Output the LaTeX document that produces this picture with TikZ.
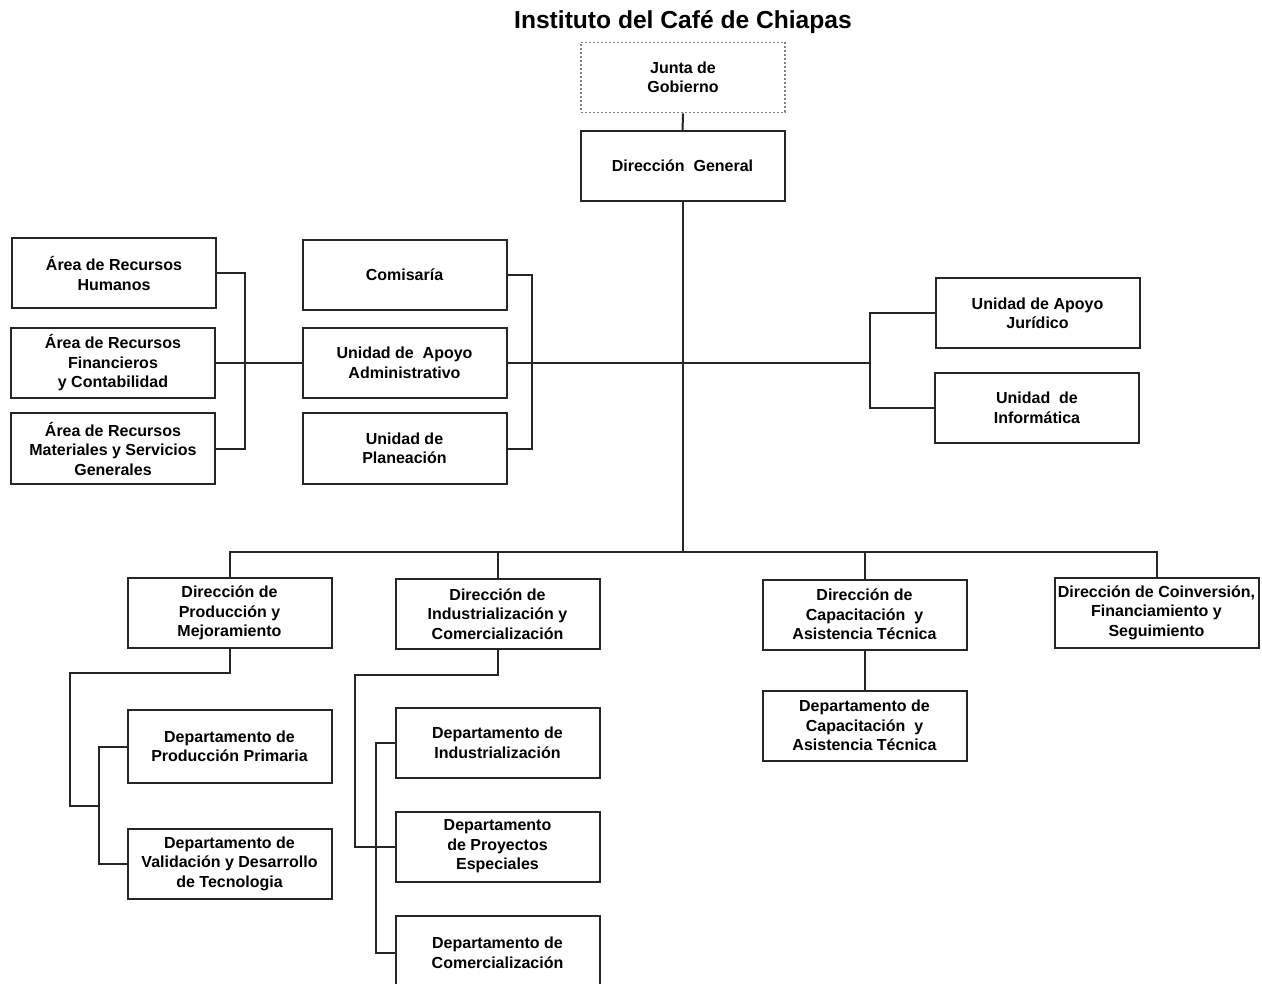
\documentclass[tikz,border=0pt]{standalone}
\usepackage{fontspec}
\setmainfont{Liberation Sans}
\usetikzlibrary{positioning}

\begin{document}
\begin{tikzpicture}[x=1pt,y=-1pt,
  every node/.style={font=\fontsize{16}{19.5}\selectfont\bfseries,align=center,inner sep=2pt},
  u/.style={draw=black!85,line width=2pt,minimum width=204pt,minimum height=70pt},
  jg/.style={u,draw=black!50,dotted,line width=1.7pt},
  e/.style={line width=2pt,draw=black!85}]
\useasboundingbox (0,0) rectangle (1262,984);
\node[font=\fontsize{24.6}{28}\selectfont\bfseries] (ICCTitulo) at (683,22) {Instituto del Café de Chiapas};
\node[jg] (ICCJunta) at (683,77.5) {Junta de\\Gobierno};
\node[u] (ICCDireccion) at (682.5,166) {Dirección~ General};
\node[u] (ICCHumanos) at (114,273.5) {Área de Recursos\\Humanos};
\node[u] (ICCFinancieros) at (113,363) {Área de Recursos\\Financieros\\y Contabilidad};
\node[u] (ICCMateriales) at (113,448.5) {Área de Recursos\\Materiales y Servicios\\Generales};
\node[u] (ICCComisaria) at (404.5,275) {Comisaría};
\node[u] (ICCApoyoAdm) at (404.5,363) {Unidad de~ Apoyo\\Administrativo};
\node[u] (ICCPlaneacion) at (404.5,448.5) {Unidad de\\Planeación};
\node[u] (ICCJuridico) at (1037.5,313.5) {Unidad de Apoyo\\Jurídico};
\node[u] (ICCInformatica) at (1037,408) {Unidad~ de\\Informática};
\node[u] (ICCProduccion) at (229.5,613) {Dirección de\\Producción y\\Mejoramiento};
\node[u] (ICCIndustria) at (497.5,614) {Dirección de\\Industrialización y\\Comercialización};
\node[u] (ICCCapacitacion) at (864.5,614.5) {Dirección de\\Capacitación~ y\\Asistencia Técnica};
\node[u] (ICCCoinversion) at (1156.5,612.5) {Dirección de Coinversión,\\Financiamiento y\\Seguimiento};
\node[u] (ICCDepCap) at (864.5,725.5) {Departamento de\\Capacitación~ y\\Asistencia Técnica};
\node[u,minimum height=73pt] (ICCPrimaria) at (229.5,746.5) {Departamento de\\Producción Primaria};
\node[u] (ICCValidacion) at (229.5,863.5) {Departamento de\\Validación y Desarrollo\\de Tecnologia};
\node[u] (ICCDepInd) at (497.5,743) {Departamento de\\Industrialización};
\node[u] (ICCProyectos) at (497.5,846.5) {Departamento\\de Proyectos\\Especiales};
\node[u,minimum height=74pt] (ICCComercial) at (497.5,953) {Departamento de\\Comercialización};
\coordinate (ICCBus) at (686,553);
\coordinate (ICCDerecha) at (870,363);
\coordinate (ICCProdBr) at (99,806);
\draw[e] (ICCJunta) -- (ICCDireccion);
\draw[e] (ICCDireccion.south) -- (ICCDireccion.south |- ICCBus);
\draw[e] (ICCProduccion.north) -- ++(0,-25) -| (ICCCoinversion.north);
\draw[e] (ICCIndustria.north) -- (ICCIndustria.north |- ICCBus);
\draw[e] (ICCCapacitacion.north) -- (ICCCapacitacion.north |- ICCBus);
\draw[e] (ICCApoyoAdm.east) -- (ICCDerecha);
\draw[e] (ICCJuridico.west) -| (ICCDerecha) |- (ICCInformatica.west);
\draw[e] (ICCComisaria.east) -- ++(24,0) |- (ICCPlaneacion.east);
\draw[e] (ICCHumanos.east) -- ++(28,0) |- (ICCMateriales.east);
\draw[e] (ICCFinancieros) -- (ICCApoyoAdm);
\draw[e] (ICCProduccion.south) -- ++(0,24) -| ([xshift=-29pt]ICCProdBr) -- (ICCProdBr);
\draw[e] (ICCPrimaria.west) -- ++(-28,0) |- (ICCValidacion.west);
\draw[e] (ICCIndustria.south) -- ++(0,25) -| ([xshift=-40pt]ICCProyectos.west) -- (ICCProyectos.west);
\draw[e] (ICCDepInd.west) -- ++(-19,0) |- (ICCComercial.west);
\draw[e] (ICCCapacitacion) -- (ICCDepCap);
\end{tikzpicture}
\end{document}
